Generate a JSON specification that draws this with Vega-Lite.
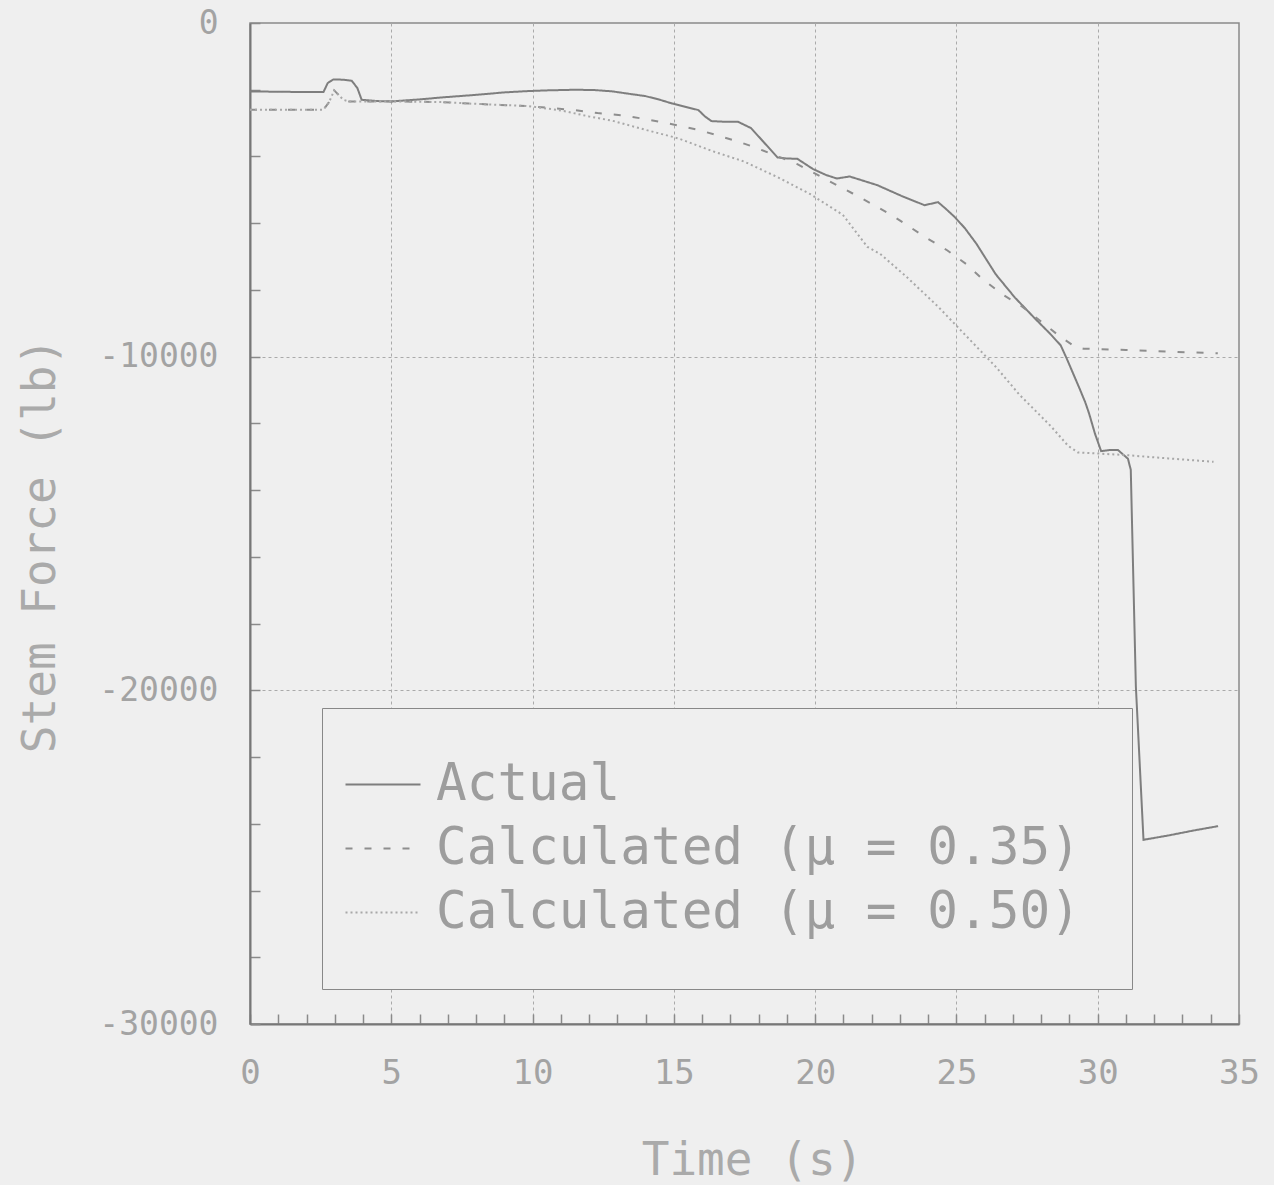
{
  "$schema": "https://vega.github.io/schema/vega-lite/v6.json",
  "width": 989,
  "height": 1001,
  "autosize": {"type": "none"},
  "padding": {"left": 250, "top": 23, "right": 35, "bottom": 161},
  "background": "#efefef",
  "config": {"view": {"stroke": "#8a8a8a", "strokeWidth": 1.5}, "font": "DejaVu Sans Mono"},
  "data": {"values": [
    {"s": "Actual", "t": 0, "f": -2050}, {"s": "Actual", "t": 1.0, "f": -2060}, {"s": "Actual", "t": 2.0, "f": -2070}, {"s": "Actual", "t": 2.6, "f": -2070},
    {"s": "Actual", "t": 2.75, "f": -1800}, {"s": "Actual", "t": 2.95, "f": -1690}, {"s": "Actual", "t": 3.3, "f": -1700}, {"s": "Actual", "t": 3.6, "f": -1730},
    {"s": "Actual", "t": 3.8, "f": -1950}, {"s": "Actual", "t": 3.95, "f": -2300}, {"s": "Actual", "t": 4.5, "f": -2340}, {"s": "Actual", "t": 5.0, "f": -2350},
    {"s": "Actual", "t": 6.0, "f": -2290}, {"s": "Actual", "t": 6.8, "f": -2230}, {"s": "Actual", "t": 7.9, "f": -2160}, {"s": "Actual", "t": 9.0, "f": -2080},
    {"s": "Actual", "t": 9.85, "f": -2040}, {"s": "Actual", "t": 10.5, "f": -2020}, {"s": "Actual", "t": 11.5, "f": -2000}, {"s": "Actual", "t": 12.2, "f": -2010},
    {"s": "Actual", "t": 12.83, "f": -2050}, {"s": "Actual", "t": 13.4, "f": -2120}, {"s": "Actual", "t": 13.99, "f": -2190}, {"s": "Actual", "t": 14.5, "f": -2300},
    {"s": "Actual", "t": 14.93, "f": -2410}, {"s": "Actual", "t": 15.87, "f": -2610}, {"s": "Actual", "t": 16.1, "f": -2800}, {"s": "Actual", "t": 16.33, "f": -2940},
    {"s": "Actual", "t": 16.8, "f": -2960}, {"s": "Actual", "t": 17.27, "f": -2960}, {"s": "Actual", "t": 17.73, "f": -3150}, {"s": "Actual", "t": 18.18, "f": -3570},
    {"s": "Actual", "t": 18.67, "f": -4030}, {"s": "Actual", "t": 19.0, "f": -4060}, {"s": "Actual", "t": 19.37, "f": -4070}, {"s": "Actual", "t": 19.93, "f": -4380},
    {"s": "Actual", "t": 20.4, "f": -4560}, {"s": "Actual", "t": 20.77, "f": -4660}, {"s": "Actual", "t": 21.22, "f": -4600}, {"s": "Actual", "t": 21.6, "f": -4700},
    {"s": "Actual", "t": 22.2, "f": -4860}, {"s": "Actual", "t": 23.05, "f": -5180}, {"s": "Actual", "t": 23.87, "f": -5460}, {"s": "Actual", "t": 24.35, "f": -5370},
    {"s": "Actual", "t": 24.6, "f": -5550}, {"s": "Actual", "t": 24.92, "f": -5800}, {"s": "Actual", "t": 25.3, "f": -6150}, {"s": "Actual", "t": 25.71, "f": -6620},
    {"s": "Actual", "t": 26.39, "f": -7530}, {"s": "Actual", "t": 27.07, "f": -8230}, {"s": "Actual", "t": 27.76, "f": -8840}, {"s": "Actual", "t": 28.3, "f": -9300},
    {"s": "Actual", "t": 28.69, "f": -9660}, {"s": "Actual", "t": 28.9, "f": -10050}, {"s": "Actual", "t": 29.36, "f": -10960}, {"s": "Actual", "t": 29.56, "f": -11370},
    {"s": "Actual", "t": 29.69, "f": -11690}, {"s": "Actual", "t": 29.9, "f": -12300}, {"s": "Actual", "t": 30.12, "f": -12830}, {"s": "Actual", "t": 30.4, "f": -12800},
    {"s": "Actual", "t": 30.72, "f": -12800}, {"s": "Actual", "t": 31.07, "f": -13060}, {"s": "Actual", "t": 31.17, "f": -13390}, {"s": "Actual", "t": 31.35, "f": -19880},
    {"s": "Actual", "t": 31.62, "f": -24480}, {"s": "Actual", "t": 32.5, "f": -24350}, {"s": "Actual", "t": 33.4, "f": -24200}, {"s": "Actual", "t": 34.26, "f": -24070},

    {"s": "Calculated (μ = 0.35)", "t": 0, "f": -2600}, {"s": "Calculated (μ = 0.35)", "t": 1.0, "f": -2600}, {"s": "Calculated (μ = 0.35)", "t": 2.0, "f": -2600},
    {"s": "Calculated (μ = 0.35)", "t": 2.6, "f": -2600}, {"s": "Calculated (μ = 0.35)", "t": 2.8, "f": -2370}, {"s": "Calculated (μ = 0.35)", "t": 2.98, "f": -2020},
    {"s": "Calculated (μ = 0.35)", "t": 3.3, "f": -2300}, {"s": "Calculated (μ = 0.35)", "t": 3.5, "f": -2350}, {"s": "Calculated (μ = 0.35)", "t": 5.0, "f": -2350},
    {"s": "Calculated (μ = 0.35)", "t": 6.8, "f": -2370}, {"s": "Calculated (μ = 0.35)", "t": 7.9, "f": -2420}, {"s": "Calculated (μ = 0.35)", "t": 9.85, "f": -2490},
    {"s": "Calculated (μ = 0.35)", "t": 11.5, "f": -2610}, {"s": "Calculated (μ = 0.35)", "t": 12.3, "f": -2700}, {"s": "Calculated (μ = 0.35)", "t": 13.2, "f": -2770},
    {"s": "Calculated (μ = 0.35)", "t": 13.99, "f": -2880}, {"s": "Calculated (μ = 0.35)", "t": 15.28, "f": -3090}, {"s": "Calculated (μ = 0.35)", "t": 15.98, "f": -3230},
    {"s": "Calculated (μ = 0.35)", "t": 17.27, "f": -3550}, {"s": "Calculated (μ = 0.35)", "t": 17.97, "f": -3760}, {"s": "Calculated (μ = 0.35)", "t": 19.37, "f": -4230},
    {"s": "Calculated (μ = 0.35)", "t": 20.63, "f": -4800}, {"s": "Calculated (μ = 0.35)", "t": 21.33, "f": -5110}, {"s": "Calculated (μ = 0.35)", "t": 22.0, "f": -5420},
    {"s": "Calculated (μ = 0.35)", "t": 22.73, "f": -5770}, {"s": "Calculated (μ = 0.35)", "t": 23.96, "f": -6450}, {"s": "Calculated (μ = 0.35)", "t": 24.67, "f": -6810},
    {"s": "Calculated (μ = 0.35)", "t": 25.34, "f": -7220}, {"s": "Calculated (μ = 0.35)", "t": 25.93, "f": -7680}, {"s": "Calculated (μ = 0.35)", "t": 26.62, "f": -8130},
    {"s": "Calculated (μ = 0.35)", "t": 27.33, "f": -8500}, {"s": "Calculated (μ = 0.35)", "t": 28.01, "f": -8960}, {"s": "Calculated (μ = 0.35)", "t": 28.7, "f": -9420},
    {"s": "Calculated (μ = 0.35)", "t": 29.2, "f": -9700}, {"s": "Calculated (μ = 0.35)", "t": 29.5, "f": -9760}, {"s": "Calculated (μ = 0.35)", "t": 31.0, "f": -9800},
    {"s": "Calculated (μ = 0.35)", "t": 32.5, "f": -9850}, {"s": "Calculated (μ = 0.35)", "t": 34.25, "f": -9900},

    {"s": "Calculated (μ = 0.50)", "t": 0, "f": -2600}, {"s": "Calculated (μ = 0.50)", "t": 1.0, "f": -2600}, {"s": "Calculated (μ = 0.50)", "t": 2.0, "f": -2600},
    {"s": "Calculated (μ = 0.50)", "t": 2.6, "f": -2600}, {"s": "Calculated (μ = 0.50)", "t": 2.8, "f": -2370}, {"s": "Calculated (μ = 0.50)", "t": 2.98, "f": -2020},
    {"s": "Calculated (μ = 0.50)", "t": 3.3, "f": -2300}, {"s": "Calculated (μ = 0.50)", "t": 3.5, "f": -2350}, {"s": "Calculated (μ = 0.50)", "t": 5.0, "f": -2350},
    {"s": "Calculated (μ = 0.50)", "t": 6.8, "f": -2370}, {"s": "Calculated (μ = 0.50)", "t": 7.9, "f": -2420}, {"s": "Calculated (μ = 0.50)", "t": 9.85, "f": -2490},
    {"s": "Calculated (μ = 0.50)", "t": 11.0, "f": -2620}, {"s": "Calculated (μ = 0.50)", "t": 12.0, "f": -2800}, {"s": "Calculated (μ = 0.50)", "t": 12.83, "f": -2930},
    {"s": "Calculated (μ = 0.50)", "t": 13.99, "f": -3200}, {"s": "Calculated (μ = 0.50)", "t": 15.17, "f": -3460}, {"s": "Calculated (μ = 0.50)", "t": 16.33, "f": -3830},
    {"s": "Calculated (μ = 0.50)", "t": 17.48, "f": -4150}, {"s": "Calculated (μ = 0.50)", "t": 18.67, "f": -4620}, {"s": "Calculated (μ = 0.50)", "t": 19.83, "f": -5130},
    {"s": "Calculated (μ = 0.50)", "t": 20.98, "f": -5750}, {"s": "Calculated (μ = 0.50)", "t": 21.85, "f": -6710}, {"s": "Calculated (μ = 0.50)", "t": 22.3, "f": -6920},
    {"s": "Calculated (μ = 0.50)", "t": 23.2, "f": -7580}, {"s": "Calculated (μ = 0.50)", "t": 24.35, "f": -8500}, {"s": "Calculated (μ = 0.50)", "t": 25.62, "f": -9620},
    {"s": "Calculated (μ = 0.50)", "t": 26.41, "f": -10320}, {"s": "Calculated (μ = 0.50)", "t": 27.23, "f": -11140}, {"s": "Calculated (μ = 0.50)", "t": 28.36, "f": -12100},
    {"s": "Calculated (μ = 0.50)", "t": 28.95, "f": -12670}, {"s": "Calculated (μ = 0.50)", "t": 29.3, "f": -12870}, {"s": "Calculated (μ = 0.50)", "t": 31.0, "f": -12950},
    {"s": "Calculated (μ = 0.50)", "t": 32.5, "f": -13050}, {"s": "Calculated (μ = 0.50)", "t": 34.1, "f": -13150}
  ]},
  "mark": {"type": "line", "strokeWidth": 2},
  "encoding": {
    "x": {
      "field": "t", "type": "quantitative",
      "scale": {"domain": [0, 35], "nice": false, "zero": false},
      "axis": {
        "title": "Time (s)",
        "values": [0,1,2,3,4,5,6,7,8,9,10,11,12,13,14,15,16,17,18,19,20,21,22,23,24,25,26,27,28,29,30,31,32,33,34,35],
        "tickSize": -10, "tickColor": "#8a8a8a", "tickWidth": 1.5,
        "domainColor": "#777777", "domainWidth": 2,
        "labelExpr": "datum.value % 5 === 0 ? '' + datum.value : ''",
        "labelFont": "DejaVu Sans Mono", "labelFontSize": 34, "labelColor": "#a3a3a3", "labelPadding": 42, "labelFlush": false,
        "grid": true, "gridColor": "#aaaaaa", "gridDash": [3, 3], "gridWidth": 1,
        "gridOpacity": {"condition": {"test": "datum.value % 5 !== 0 || datum.value === 0 || datum.value === 35", "value": 0}, "value": 1},
        "titleFont": "DejaVu Sans Mono", "titleFontSize": 46, "titleFontWeight": "normal", "titleColor": "#aaaaaa",
        "titleX": 502, "titleY": 136, "titleBaseline": "middle", "titleAlign": "center"
      }
    },
    "y": {
      "field": "f", "type": "quantitative",
      "scale": {"domain": [-30000, 0], "nice": false, "zero": false},
      "axis": {
        "title": "Stem Force (lb)",
        "values": [0,-2000,-4000,-6000,-8000,-10000,-12000,-14000,-16000,-18000,-20000,-22000,-24000,-26000,-28000,-30000],
        "tickSize": -10, "tickColor": "#8a8a8a", "tickWidth": 1.5,
        "domainColor": "#777777", "domainWidth": 2,
        "labelExpr": "datum.value % 10000 === 0 ? '' + datum.value : ''",
        "labelFont": "DejaVu Sans Mono", "labelFontSize": 33, "labelColor": "#a3a3a3", "labelPadding": 42, "labelFlush": false,
        "grid": true, "gridColor": "#aaaaaa", "gridDash": [3, 3], "gridWidth": 1,
        "gridOpacity": {"condition": {"test": "datum.value % 10000 !== 0 || datum.value === 0 || datum.value === -30000", "value": 0}, "value": 1},
        "titleFont": "DejaVu Sans Mono", "titleFontSize": 46, "titleFontWeight": "normal", "titleColor": "#aaaaaa",
        "titleX": -210, "titleY": 522, "titleAngle": -90, "titleBaseline": "middle", "titleAlign": "center"
      }
    },
    "color": {
      "field": "s", "type": "nominal",
      "scale": {"domain": ["Actual", "Calculated (μ = 0.35)", "Calculated (μ = 0.50)"], "range": ["#7e7e7e", "#8e8e8e", "#a8a8a8"]},
      "legend": {
        "title": null, "orient": "none", "legendX": 72, "legendY": 685,
        "strokeColor": "#888888", "fillColor": "#efefef", "padding": 51,
        "labelFont": "DejaVu Sans Mono", "labelFontSize": 51, "labelColor": "#9d9d9d", "labelOffset": 12, "labelLimit": 1000,
        "symbolType": "M-2.65,0H1.1", "symbolSize": 1600, "symbolStrokeWidth": 2, "rowPadding": 12
      }
    },
    "strokeDash": {
      "field": "s", "type": "nominal",
      "scale": {"domain": ["Actual", "Calculated (μ = 0.35)", "Calculated (μ = 0.50)"], "range": [[1, 0], [7, 12], [2, 3]]},
      "legend": {
        "title": null, "orient": "none", "legendX": 72, "legendY": 685,
        "strokeColor": "#888888", "fillColor": "#efefef", "padding": 51,
        "labelFont": "DejaVu Sans Mono", "labelFontSize": 51, "labelColor": "#9d9d9d", "labelOffset": 12, "labelLimit": 1000,
        "symbolType": "M-2.65,0H1.1", "symbolSize": 1600, "symbolStrokeWidth": 2, "rowPadding": 12
      }
    }
  }
}
